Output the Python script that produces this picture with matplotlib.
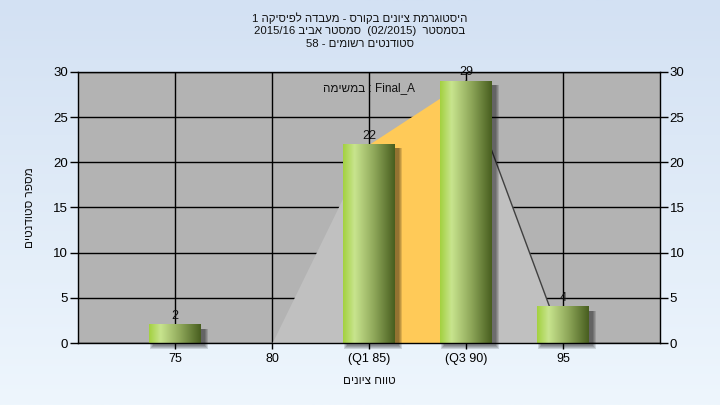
import re
import numpy as np
import matplotlib
matplotlib.use('Agg')
import matplotlib.pyplot as plt
from matplotlib.colors import LinearSegmentedColormap

plt.rcParams['font.family'] = ['Liberation Sans', 'DejaVu Sans']

# data
categories = ['75', '80', '(Q1 85)', '(Q3 90)', '95']
counts = [2, 0, 22, 29, 4]
area_vals = [0, 0, 22, 29, 0]   # background distribution area
q1_idx, q3_idx = 2, 3

title_lines = ['היסטוגרמת ציונים בקורס - מעבדה לפיסיקה 1',
               'בסמסטר  (02/2015)  סמסטר אביב 2015/16',
               'סטודנטים רשומים - 58']
ylabel = 'מספר סטודנטים'
xlabel = 'טווח ציונים'
task_word = 'במשימה'
task_name = 'Final_A'


def vis(s):
    # crude right-to-left reordering, matplotlib draws glyphs left to right
    r = s[::-1]
    r = re.sub(r'[A-Za-z0-9_./]+', lambda m: m.group(0)[::-1], r)
    mirror = {'(': ')', ')': '('}
    return ''.join(mirror.get(c, c) for c in r)


fig = plt.figure(figsize=(7.2, 4.05), dpi=100)

# light blue background gradient
bg = fig.add_axes([0, 0, 1, 1], zorder=-10)
bg_cmap = LinearSegmentedColormap.from_list('bg', ['#d3e1f3', '#eef6fd'])
bg.imshow(np.linspace(0, 1, 256).reshape(-1, 1), aspect='auto', cmap=bg_cmap,
          extent=[0, 1, 0, 1])
bg.axis('off')

ax = fig.add_axes([78 / 720, 62 / 405, 582 / 720, 271 / 405])
ax.set_facecolor('#b3b3b3')
x = np.arange(len(categories))
ax.set_xlim(-1, 5)
ax.set_ylim(0, 30)

# grid
for yv in range(0, 31, 5):
    ax.axhline(yv, color='black', lw=1, zorder=1)
for xv in x:
    ax.axvline(xv, color='black', lw=1, zorder=1)

# area behind the bars
ax.fill_between(x[:q1_idx + 1], area_vals[:q1_idx + 1], color='#c0c0c0', lw=0, zorder=2)
ax.fill_between(x[q1_idx:q3_idx + 1], area_vals[q1_idx:q3_idx + 1], color='#ffca58', lw=0, zorder=2)
ax.fill_between(x[q3_idx:], area_vals[q3_idx:], color='#c0c0c0', lw=0, zorder=2)
ax.plot(x[q3_idx:], area_vals[q3_idx:], color='#404040', lw=1, zorder=2.5)
ax.plot([0, 1], [0, 0], color='#d8d8d8', lw=1, zorder=2.5)

# bars with a horizontal green gradient and a soft shadow
bar_cmap = LinearSegmentedColormap.from_list(
    'bar', [(0, '#a3d140'), (0.22, '#c8e48e'), (0.6, '#8fa85a'), (1, '#485e1f')])
grad = np.linspace(0, 1, 128).reshape(1, -1)
w = 0.53
px_x = 6 / 582
px_y = 30 / 271
for xi, v in zip(x, counts):
    if v <= 0:
        continue
    for k in range(4):
        sh = plt.Rectangle((xi - w / 2 + (4 - k) * px_x, -(3 + k) * px_y),
                           w + 2 * k * px_x, v + (k - 1) * px_y,
                           facecolor='black', alpha=0.13, lw=0, zorder=3)
        sh.set_clip_on(False)
        ax.add_patch(sh)
    ax.imshow(grad, aspect='auto', cmap=bar_cmap, extent=[xi - w / 2, xi + w / 2, 0, v],
              zorder=4, interpolation='bilinear')
    ax.text(xi, v + 0.3, str(v), ha='center', va='bottom', fontsize=9, color='#111111', zorder=6)

ax.set_xlim(-1, 5)
ax.set_ylim(0, 30)
ax.set_aspect('auto')

ax.set_xticks(x)
ax.set_xticklabels(categories)
ax.set_yticks(range(0, 31, 5))
ax.tick_params(axis='x', length=4, width=1, pad=3, labelsize=9, color='black')
ax.tick_params(axis='y', length=6, width=1, pad=1, labelsize=9.5, color='black',
               right=True, labelright=True)
for sp in ax.spines.values():
    sp.set_color('black')
    sp.set_linewidth(1)
    sp.set_zorder(7)

ax.text(2.0, 28.2, vis(task_word) + ' : ' + task_name, ha='center', va='center',
        fontsize=8.5, color='#111111', zorder=7)

for i, line in enumerate(title_lines):
    fig.text(0.5, 1 - (18 + 13 * i) / 405, vis(line), ha='center', va='center',
             fontsize=8.2, color='#111111')

fig.text(369 / 720, 1 - 381 / 405, vis(xlabel), ha='center', va='center', fontsize=8.5, color='#111111')
fig.text(30 / 720, 1 - 208 / 405, vis(ylabel), ha='center', va='center', rotation=90,
         fontsize=8.5, color='#111111')

fig.savefig('out.png', dpi=100)
